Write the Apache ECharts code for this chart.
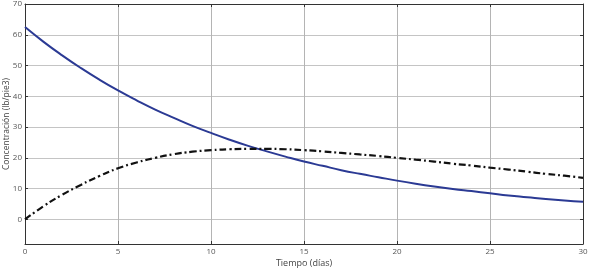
<!DOCTYPE html>
<html><head><meta charset="utf-8">
<script src="https://cdn.jsdelivr.net/npm/echarts@6/dist/echarts.min.js"></script>
<style>html,body{margin:0;padding:0;background:#fff}#c{width:590px;height:271px}</style>
</head><body><div id="c"></div>
<script>
const days = [0,1,2,3,4,5,6,7,8,9,10,11,12,13,14,15,16,17,18,19,20,21,22,23,24,25,26,27,28,29,30];
const concA = [62.5,57.7,53.3,49.2,45.4,41.9,38.7,35.7,33.0,30.4,28.1,25.9,23.9,22.1,20.4,18.8,17.4,16.0,14.8,13.7,12.6,11.6,10.7,9.9,9.2,8.5,7.8,7.2,6.6,6.1,5.7];
const concB = [0,4.3,8.0,11.2,14.1,16.6,18.5,20.0,21.2,22.0,22.5,22.8,22.9,22.9,22.8,22.5,22.1,21.6,21.1,20.6,20.0,19.4,18.8,18.1,17.5,16.8,16.2,15.5,14.8,14.2,13.5];
const xTitle = 'Tiempo (días)';
const yTitle = 'Concentración (lb/pie3)';

const font = 'Open Sans';
const chart = echarts.init(document.getElementById('c'));
chart.setOption({
  animation: false,
  grid: {left: 25, right: 7, top: 4, bottom: 27, containLabel: false, outerBoundsMode: 'none'},
  xAxis: [{
    type: 'value', min: 0, max: 30, interval: 5,
    name: xTitle, nameLocation: 'middle', nameGap: 15, nameMoveOverlap: false,
    nameTextStyle: {fontFamily: font, fontSize: 9, color: '#444'},
    axisLine: {show: true, onZero: false, lineStyle: {color: '#333', width: 1}},
    axisTick: {show: true, inside: true, length: 3, lineStyle: {color: '#333'}},
    axisLabel: {fontFamily: font, fontSize: 8, color: '#555', margin: 4},
    splitLine: {show: true, lineStyle: {color: '#b4b4b4', width: 1}}
  }, {
    type: 'value', min: 0, max: 30, interval: 5, position: 'top',
    axisLine: {show: true, onZero: false, lineStyle: {color: '#333', width: 1}},
    axisTick: {show: true, inside: true, length: 3, lineStyle: {color: '#333'}},
    axisLabel: {show: false}, splitLine: {show: false}
  }],
  yAxis: [{
    type: 'value', min: -8, max: 70, splitNumber: 8,
    name: yTitle, nameLocation: 'middle', nameGap: 14, nameMoveOverlap: false,
    nameTextStyle: {fontFamily: font, fontSize: 8.5, color: '#444'},
    axisLine: {show: true, onZero: false, lineStyle: {color: '#333', width: 1}},
    axisTick: {show: true, inside: true, length: 3, lineStyle: {color: '#333'}},
    axisLabel: {fontFamily: font, fontSize: 8, color: '#555', margin: 3, showMinLabel: false,
      formatter: v => (v % 10 === 0 ? String(v) : '')},
    splitLine: {show: true, lineStyle: {color: '#c4c4c4', width: 1}}
  }, {
    type: 'value', min: -8, max: 70, splitNumber: 8, position: 'right',
    axisLine: {show: true, onZero: false, lineStyle: {color: '#333', width: 1}},
    axisTick: {show: true, inside: true, length: 3, lineStyle: {color: '#333'}},
    axisLabel: {show: false}, splitLine: {show: false}
  }],
  series: [{
    type: 'line', xAxisIndex: 0, yAxisIndex: 0, smooth: true, showSymbol: false,
    data: days.map((d, i) => [d, concA[i]]),
    lineStyle: {color: '#2b3a94', width: 2}
  }, {
    type: 'line', xAxisIndex: 0, yAxisIndex: 0, smooth: true, showSymbol: false,
    data: days.map((d, i) => [d, concB[i]]),
    lineStyle: {color: '#111', width: 2.2, type: [7, 3, 2, 3]}
  }]
});
</script></body></html>
